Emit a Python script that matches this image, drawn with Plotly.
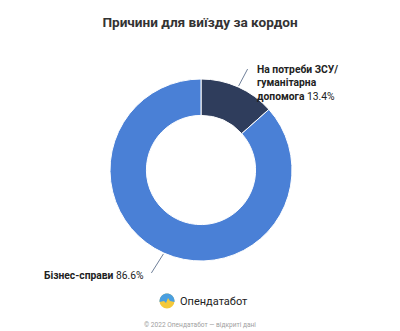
import math
import plotly.graph_objects as go

labels = ["На потреби ЗСУ/гуманітарна допомога", "Бізнес-справи"]
values = [13.4, 86.6]
colors = ["#2f3d5c", "#4a80d6"]
title = "Причини для виїзду за кордон"
footer = "© 2022 Опендатабот — відкриті дані"
brand = "Опендатабот"

W, H = 400, 331
cx, cy, R = 201, 170, 91
FONT = "Roboto, sans-serif"

fig = go.Figure(go.Pie(
    labels=labels, values=values, hole=0.6, sort=False, direction="clockwise",
    rotation=0, marker=dict(colors=colors, line=dict(color="white", width=1)),
    textinfo="none", hoverinfo="label+percent", showlegend=False,
    domain=dict(x=[(cx - R) / W, (cx + R) / W], y=[1 - (cy + R) / H, 1 - (cy - R) / H]),
))

def px(x, y):
    return x / W, 1 - y / H

shapes = []
annotations = []
total = sum(values)
cum = 0
label_texts = [
    "<b>На потреби ЗСУ/</b><br><b>гуманітарна</b><br><b>допомога</b> %.1f%%" % values[0],
    "<b>Бізнес-справи</b> %.1f%%" % values[1],
]
for i, v in enumerate(values):
    mid = (cum + v / 2) / total * 2 * math.pi
    cum += v
    sx = cx + (R + 1) * math.sin(mid)
    sy = cy - (R + 1) * math.cos(mid)
    if math.sin(mid) >= 0:
        ex, ey = sx + 9, sy - 17
        tx, ty, xa = ex + 7, ey + 14, "left"
    else:
        ex, ey = sx - 12, sy + 19
        tx, ty, xa = ex - 5, ey + 3, "right"
    x0, y0 = px(sx, sy)
    x1, y1 = px(ex, ey)
    shapes.append(dict(type="line", xref="paper", yref="paper", x0=x0, y0=y0, x1=x1, y1=y1,
                       line=dict(color="#6f7f99", width=1)))
    tx_, ty_ = px(tx, ty)
    annotations.append(dict(xref="paper", yref="paper", x=tx_, y=ty_, xanchor=xa, yanchor="middle",
                            text=label_texts[i], showarrow=False, align="left",
                            font=dict(size=10.3, color="#222", family=FONT)))

# logo
lx, ly, lr = 167, 301, 7.5
def circ(x, y, r):
    a, b = px(x - r, y - r)
    c, d = px(x + r, y + r)
    return dict(x0=a, y0=d, x1=c, y1=b)
shapes.append(dict(type="circle", xref="paper", yref="paper", fillcolor="#f5c93a", line=dict(width=0), **circ(lx, ly, lr)))
pts = []
for k in range(0, 181, 10):
    ang = math.radians(180 + k)
    pts.append(px(lx + lr * math.cos(ang), ly + lr * math.sin(ang)))
path = "M " + " L ".join("%f,%f" % p for p in pts)
wave = [(lx + 7.5, ly + 1), (lx + 3, ly), (lx + 1, ly - 3), (lx - 1, ly + 2), (lx - 3, ly), (lx - 7.5, ly + 1)]
path += " L " + " L ".join("%f,%f" % px(a, b) for a, b in wave) + " Z"
shapes.append(dict(type="path", xref="paper", yref="paper", path=path, fillcolor="#4a9fe0", line=dict(width=0)))

annotations.append(dict(xref="paper", yref="paper", x=px(178, 0)[0], y=px(0, 301)[1], xanchor="left", yanchor="middle",
                        text=brand, showarrow=False, font=dict(size=11, color="#222", family=FONT)))
annotations.append(dict(xref="paper", yref="paper", x=0.5, y=px(0, 325)[1], xanchor="center", yanchor="middle",
                        text=footer, showarrow=False, font=dict(size=6.6, color="#a0a0a0", family=FONT)))

fig.update_layout(
    width=W, height=H, margin=dict(l=0, r=0, t=0, b=0),
    paper_bgcolor="white", plot_bgcolor="white",
    title=dict(text="<b>" + title + "</b>", x=0.5, xanchor="center", y=1 - 22 / H, yanchor="middle",
               font=dict(size=13.6, color="#333", family=FONT)),
    shapes=shapes, annotations=annotations,
)
fig.write_html("out.html")
